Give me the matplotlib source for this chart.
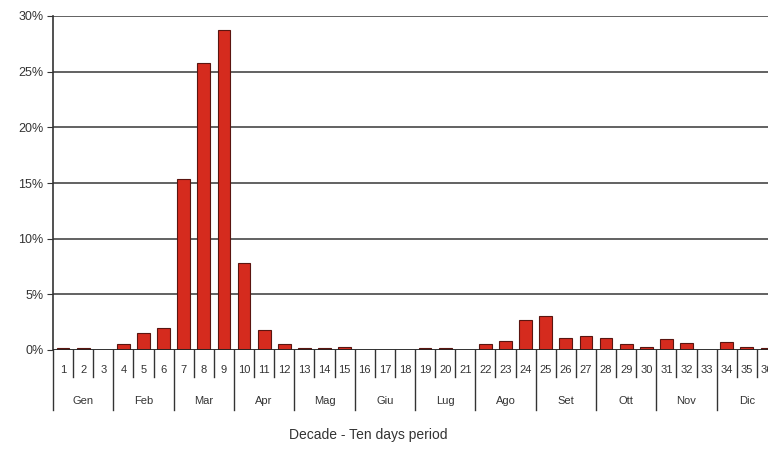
import matplotlib
matplotlib.use("Agg")
import matplotlib.pyplot as plt
import matplotlib.transforms as mtransforms

plt.rcParams['font.family'] = ['Liberation Sans', 'DejaVu Sans']

decades = list(range(1, 37))
values = [0.15, 0.15, 0.0, 0.5, 1.5, 2.0, 15.4, 25.8, 28.7, 7.8, 1.8, 0.5,
          0.15, 0.15, 0.25, 0.0, 0.0, 0.0, 0.15, 0.15, 0.0, 0.5, 0.8, 2.7,
          3.05, 1.1, 1.3, 1.1, 0.5, 0.25, 1.0, 0.65, 0.0, 0.75, 0.25, 0.15]
months = ['Gen', 'Feb', 'Mar', 'Apr', 'Mag', 'Giu', 'Lug', 'Ago', 'Set', 'Ott', 'Nov', 'Dic']
yticks = [0, 5, 10, 15, 20, 25, 30]
xlabel = 'Decade - Ten days period'

fig = plt.figure(figsize=(7.68, 4.49), dpi=100)
ax = fig.add_axes([53/768, 1 - 350/449, 724/768, 334/449])

x = list(range(len(decades)))
ax.bar(x, values, width=0.64, color='#d52b1e', edgecolor='#5a1510', linewidth=0.8, zorder=3)

ax.set_xlim(-0.5, len(decades) - 0.5)
ax.set_ylim(0, 30)
ax.set_yticks(yticks)
ax.set_yticklabels([f'{v}%' for v in yticks], fontsize=9, color='#333333')
for v in yticks[1:]:
    ax.axhline(v, color='#555555', lw=1.3, zorder=1)
ax.axhline(0, color='#222222', lw=1.3, zorder=4)
ax.tick_params(axis='y', length=4, color='#333333', pad=3)
ax.set_xticks([])
for s in ['top', 'right', 'bottom']:
    ax.spines[s].set_visible(False)
ax.spines['left'].set_color('#333333')
ax.spines['left'].set_linewidth(1.2)

trans = mtransforms.blended_transform_factory(ax.transData, ax.transAxes)
for k in range(len(decades) + 1):
    pos = k - 0.5
    bottom = -0.18 if k % 3 == 0 else -0.081
    ax.plot([pos, pos], [0, bottom], transform=trans, color='#333333', lw=1.0, clip_on=False)
for i, d in enumerate(decades):
    ax.text(i, -0.06, str(d), transform=trans, ha='center', va='center', fontsize=8, color='#333333')
for m, name in enumerate(months):
    ax.text(3 * m + 1, -0.152, name, transform=trans, ha='center', va='center', fontsize=8, color='#333333')
ax.text(15.2, -0.255, xlabel, transform=trans, ha='center', va='center', fontsize=10, color='#333333')

fig.savefig('out.png', dpi=100)
